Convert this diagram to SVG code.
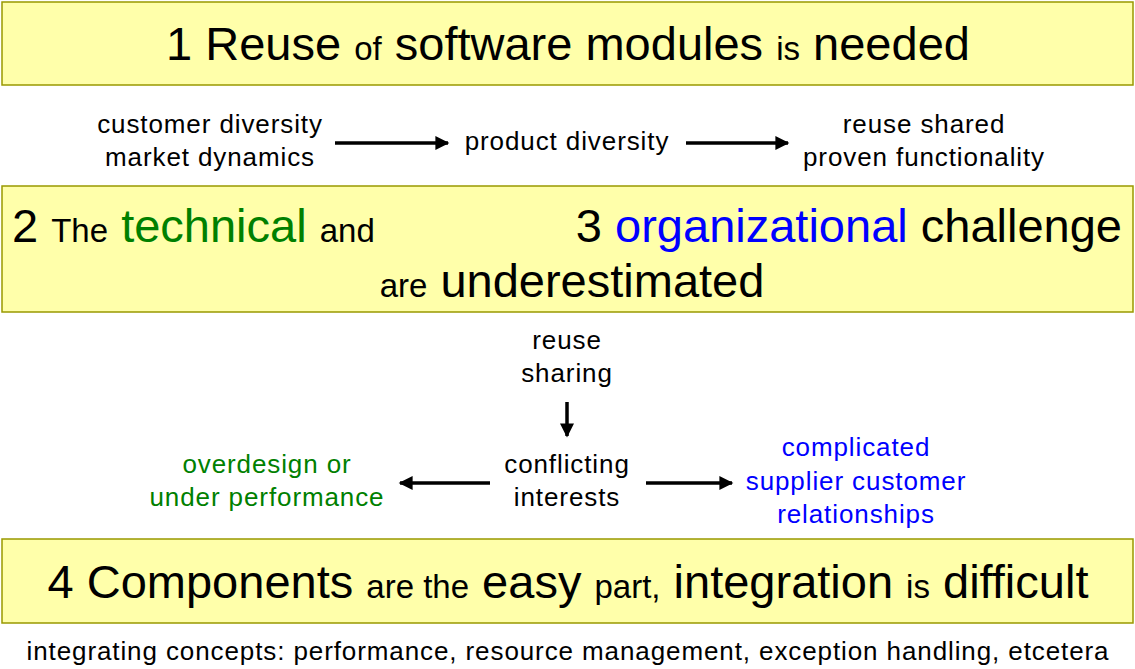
<svg xmlns="http://www.w3.org/2000/svg" width="1135" height="669" viewBox="0 0 1135 669">
<style>
text{font-family:"Liberation Sans",Arial,sans-serif;fill:#000}
.box{fill:#ffffaa;stroke:#999900;stroke-width:1.5}
.b{font-size:47px}.s{font-size:33px}.m{font-size:26px;letter-spacing:0.9px}
.g{fill:#008000}.bl{fill:#0000ff}
.c{stroke:#000;stroke-width:3.5;fill:none;marker-end:url(#ah)}
</style>
<defs><marker id="ah" viewBox="0 0 10 10" refX="9" refY="5" markerWidth="5" markerHeight="4" orient="auto" markerUnits="strokeWidth"><path d="M0,0L10,5L0,10z" fill="#000"/></marker></defs>
<g id="n1"><rect class="box" x="2" y="2" width="1131" height="83"/>
<text x="568" y="60" text-anchor="middle" class="b">1 Reuse <tspan class="s">of</tspan> software modules <tspan class="s">is</tspan> needed</text></g>
<g id="n2"><text x="210" y="133" text-anchor="middle" class="m">customer diversity</text><text x="210" y="166" text-anchor="middle" class="m">market  dynamics</text></g>
<g id="n3"><text x="567" y="150" text-anchor="middle" class="m">product diversity</text></g>
<g id="n4"><text x="924" y="133" text-anchor="middle" class="m">reuse shared</text><text x="924" y="166" text-anchor="middle" class="m">proven functionality</text></g>
<g id="n5"><rect class="box" x="2" y="186" width="1131" height="126"/>
<text x="12" y="242" class="b">2 <tspan class="s">The</tspan> <tspan class="g">technical</tspan> <tspan class="s">and</tspan></text>
<text x="1122" y="242" text-anchor="end" class="b">3 <tspan class="bl">organizational</tspan> challenge</text>
<text x="572" y="297" text-anchor="middle" class="b"><tspan class="s">are</tspan> underestimated</text></g>
<g id="n6"><text x="567" y="349" text-anchor="middle" class="m">reuse</text><text x="567" y="382" text-anchor="middle" class="m">sharing</text></g>
<g id="n7"><text x="567" y="473" text-anchor="middle" class="m">conflicting</text><text x="567" y="506" text-anchor="middle" class="m">interests</text></g>
<g id="n8"><text x="267" y="473" text-anchor="middle" class="m g">overdesign or</text><text x="267" y="506" text-anchor="middle" class="m g">under performance</text></g>
<g id="n9"><text x="856" y="456" text-anchor="middle" class="m bl">complicated</text><text x="856" y="490" text-anchor="middle" class="m bl">supplier customer</text><text x="856" y="523" text-anchor="middle" class="m bl">relationships</text></g>
<g id="n10"><rect class="box" x="2" y="539" width="1131" height="84"/>
<text x="568" y="598" text-anchor="middle" class="b">4 Components <tspan class="s">are the</tspan> easy <tspan class="s">part,</tspan> integration <tspan class="s">is</tspan> difficult</text></g>
<g id="n11"><text x="568" y="660" text-anchor="middle" class="m">integrating concepts: performance, resource management, exception handling, etcetera</text></g>
<g id="connectors">
<line class="c" x1="335" y1="143" x2="448" y2="143"/>
<line class="c" x1="686" y1="143" x2="788" y2="143"/>
<line class="c" x1="567" y1="402" x2="567" y2="436"/>
<line class="c" x1="490" y1="483" x2="400" y2="483"/>
<line class="c" x1="646" y1="483" x2="732" y2="483"/>
</g>
</svg>
